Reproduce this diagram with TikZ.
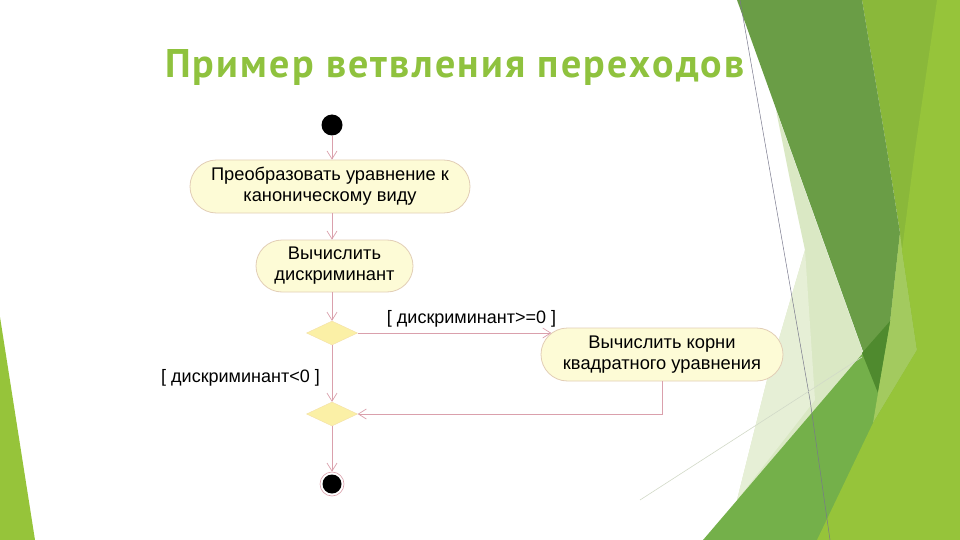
\documentclass[tikz,border=0pt]{standalone}
\usepackage{fontspec}
\setmainfont{Liberation Sans}
\newfontfamily\titlefont[LetterSpace=5.5]{PT Sans}
\usetikzlibrary{shapes.geometric,shapes.misc,arrows.meta}
\definecolor{titlec}{RGB}{143,194,62}
\definecolor{palec}{RGB}{218,232,196}
\definecolor{palelc}{RGB}{230,239,214}
\definecolor{bandc}{RGB}{106,157,70}
\definecolor{limec}{RGB}{138,184,58}
\definecolor{brightc}{RGB}{150,196,58}
\definecolor{stripc}{RGB}{163,202,95}
\definecolor{tric}{RGB}{116,176,74}
\definecolor{tipc}{RGB}{79,138,46}
\definecolor{linec}{RGB}{218,160,172}
\definecolor{boxborder}{RGB}{226,206,182}
\definecolor{boxfill}{RGB}{253,251,214}
\definecolor{diafill}{RGB}{251,240,166}
\tikzset{
  action/.style={rounded rectangle, draw=boxborder, fill=boxfill, line width=0.8pt,
    align=center, font=\fontsize{18.3}{21}\selectfont, inner sep=0pt},
  decision/.style={diamond, fill=diafill, draw=diafill!80!linec, line width=0.4pt,
    inner sep=0pt, minimum width=51, minimum height=24},
  flow/.style={draw=linec, line width=0.7pt, -{Straight Barb[length=8,width=10]}},
  guard/.style={font=\fontsize{18}{21}\selectfont, inner sep=0pt},
}
\begin{document}
\begin{tikzpicture}[x=1pt,y=-1pt]
\useasboundingbox (0,0) rectangle (960,540);
\fill[white] (0,0) rectangle (960,540);
% background decoration
\fill[palec] (776,110) -- (880,400) -- (737,500) -- (767,380) -- (805,250) -- (790,180) -- cycle;
\fill[palelc] (805,250) -- (815,400) -- (737,500) -- (767,380) -- cycle;
\fill[limec] (855,0) -- (960,0) -- (960,540) -- (800,540) -- (878,393) -- (890,323) -- (900,233) -- (887,150) -- (862,0) -- cycle;
\fill[bandc] (737,0) -- (862,0) -- (887,150) -- (900,233) -- (890,323) -- (878,393) -- cycle;
\fill[tric] (893,318) -- (703,540) -- (830,540) -- (880,420) -- cycle;
\fill[tipc] (862,353) -- (891,320) -- (890,323) -- (878,393) -- cycle;
\fill[stripc] (902,250) -- (917,350) -- (873,423) -- (878,393) -- (890,323) -- (900,233) -- cycle;
\fill[brightc] (937,0) -- (960,0) -- (960,540) -- (817,540) -- (873,423) -- (917,350) -- (902,250) -- (915,150) -- cycle;
\draw[draw={rgb,255:red,120;green,120;blue,140}, line width=0.5pt] (740,0) -- (810,400) -- (830,540);
\draw[draw={rgb,255:red,210;green,218;blue,200}, line width=0.6pt] (640,500) -- (862,357);
\fill[brightc] (0,317) -- (35,540) -- (0,540) -- cycle;
% title
\node[anchor=base west, inner sep=0pt, text=titlec,
  font=\titlefont\bfseries\fontsize{40}{48}\selectfont] (title) at (165,78) {Пример ветвления переходов};
% diagram
\node[circle, fill=black, minimum size=21, inner sep=0pt] (start) at (332,125) {};
\node[action, minimum width=280, minimum height=53] (a1) at (330,186.5) {Преобразовать уравнение к\\каноническому виду};
\node[action, minimum width=157, minimum height=52] (a2) at (334.5,266) {Вычислить\\дискриминант};
\node[decision] (d1) at (332,333) {};
\node[action, minimum width=242, minimum height=53] (a3) at (662,354.5) {Вычислить корни\\квадратного уравнения};
\node[decision] (d2) at (332,414) {};
\node[circle, draw=linec, line width=0.6pt, minimum size=24, inner sep=0pt] (end) at (332,484) {};
\node[circle, fill=black, minimum size=19, inner sep=0pt] (endin) at (end.center) {};
\node[guard] (g1) at (471.5,319) {[ дискриминант>=0 ]};
\node[guard] (g2) at (240.5,378) {[ дискриминант<0 ]};
\draw[flow] (start.south) -- (start.south |- a1.north);
\draw[flow] (a1.south -| start) -- (start |- a2.north);
\draw[flow] (a2.south -| start) -- (d1.north);
\draw[flow] (d1.east) -- (d1.east -| a3.169);
\draw[flow] (d1.south) -- (d2.north);
\draw[flow] (a3.south) |- (d2.east);
\draw[flow] (d2.south) -- (end.north);
\end{tikzpicture}
\end{document}
